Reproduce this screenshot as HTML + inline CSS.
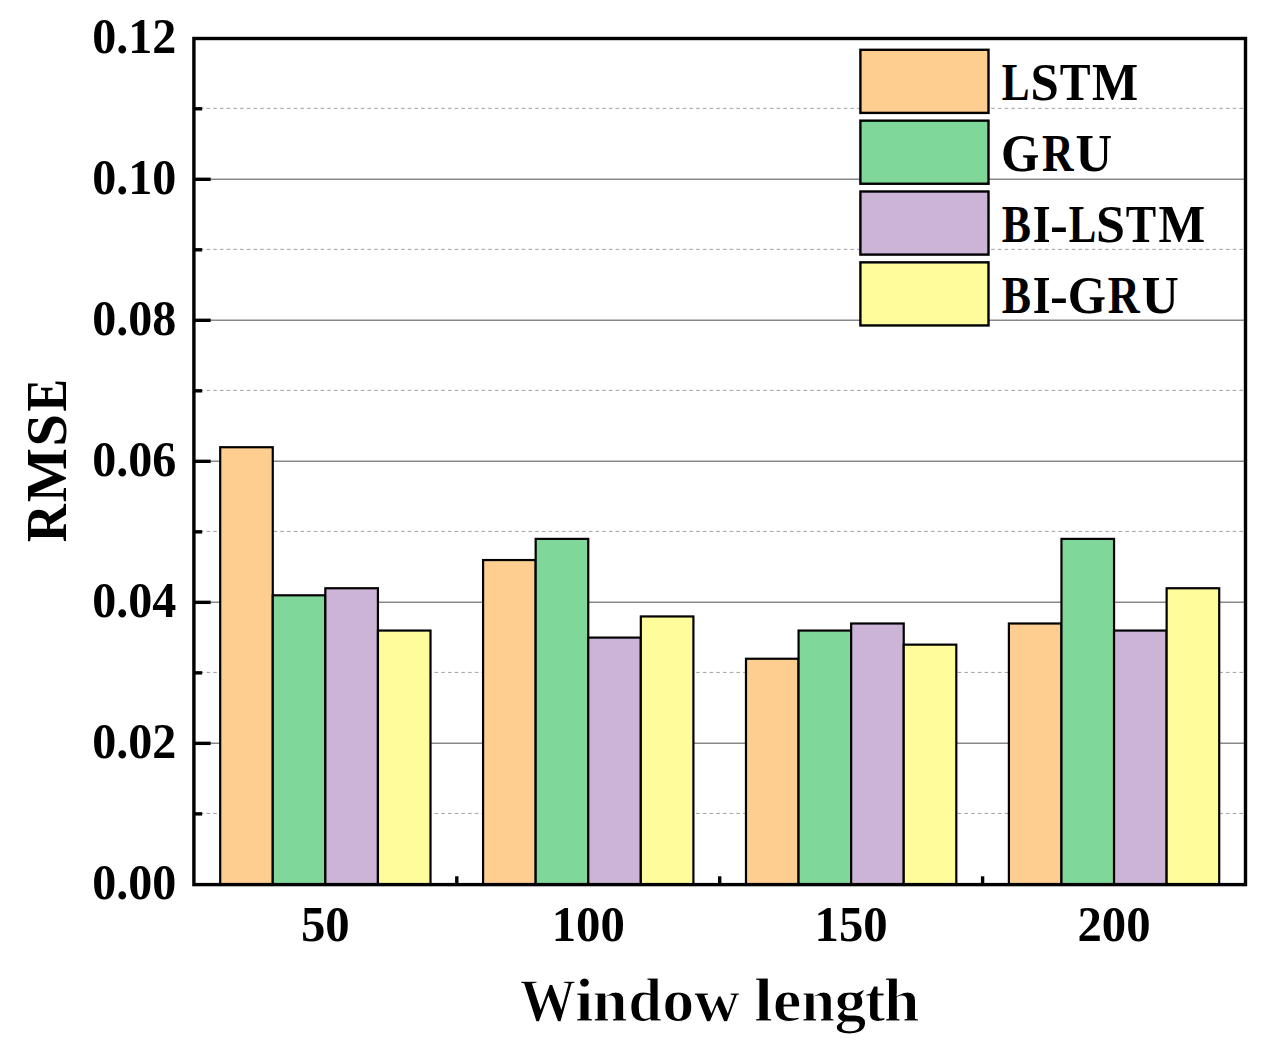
<!DOCTYPE html><html><head><meta charset="utf-8"><title>RMSE vs window length</title><style>html,body{margin:0;padding:0;background:#fff;overflow:hidden;}svg{display:block;}</style></head><body>
<svg width="1267" height="1060" viewBox="0 0 1267 1060">
<rect width="1267" height="1060" fill="#fff"/>
<line x1="193.1" y1="813.42" x2="1243.8" y2="813.42" stroke="#a0a0a0" stroke-width="1" stroke-dasharray="3.6 3.107"/>
<line x1="193.1" y1="672.40" x2="1243.8" y2="672.40" stroke="#a0a0a0" stroke-width="1" stroke-dasharray="3.6 3.107"/>
<line x1="193.1" y1="531.39" x2="1243.8" y2="531.39" stroke="#a0a0a0" stroke-width="1" stroke-dasharray="3.6 3.107"/>
<line x1="193.1" y1="390.37" x2="1243.8" y2="390.37" stroke="#a0a0a0" stroke-width="1" stroke-dasharray="3.6 3.107"/>
<line x1="193.1" y1="249.35" x2="1243.8" y2="249.35" stroke="#a0a0a0" stroke-width="1" stroke-dasharray="3.6 3.107"/>
<line x1="193.1" y1="108.34" x2="1243.8" y2="108.34" stroke="#a0a0a0" stroke-width="1" stroke-dasharray="3.6 3.107"/>
<line x1="193.9" y1="743.36" x2="1245.5" y2="743.36" stroke="#888" stroke-width="1.5"/>
<line x1="193.9" y1="602.35" x2="1245.5" y2="602.35" stroke="#888" stroke-width="1.5"/>
<line x1="193.9" y1="461.33" x2="1245.5" y2="461.33" stroke="#888" stroke-width="1.5"/>
<line x1="193.9" y1="320.31" x2="1245.5" y2="320.31" stroke="#888" stroke-width="1.5"/>
<line x1="193.9" y1="179.30" x2="1245.5" y2="179.30" stroke="#888" stroke-width="1.5"/>
<rect x="220.19" y="447.23" width="52.58" height="437.37" fill="#FECE90" stroke="#000" stroke-width="2.2"/>
<rect x="272.77" y="595.30" width="52.58" height="289.30" fill="#7FD799" stroke="#000" stroke-width="2.2"/>
<rect x="325.35" y="588.25" width="52.58" height="296.36" fill="#CCB4D7" stroke="#000" stroke-width="2.2"/>
<rect x="377.93" y="630.55" width="52.58" height="254.05" fill="#FFFC9B" stroke="#000" stroke-width="2.2"/>
<rect x="483.09" y="560.04" width="52.58" height="324.56" fill="#FECE90" stroke="#000" stroke-width="2.2"/>
<rect x="535.67" y="538.89" width="52.58" height="345.71" fill="#7FD799" stroke="#000" stroke-width="2.2"/>
<rect x="588.25" y="637.60" width="52.58" height="247.00" fill="#CCB4D7" stroke="#000" stroke-width="2.2"/>
<rect x="640.83" y="616.45" width="52.58" height="268.15" fill="#FFFC9B" stroke="#000" stroke-width="2.2"/>
<rect x="745.99" y="658.75" width="52.58" height="225.85" fill="#FECE90" stroke="#000" stroke-width="2.2"/>
<rect x="798.57" y="630.55" width="52.58" height="254.05" fill="#7FD799" stroke="#000" stroke-width="2.2"/>
<rect x="851.15" y="623.50" width="52.58" height="261.10" fill="#CCB4D7" stroke="#000" stroke-width="2.2"/>
<rect x="903.73" y="644.65" width="52.58" height="239.95" fill="#FFFC9B" stroke="#000" stroke-width="2.2"/>
<rect x="1008.89" y="623.50" width="52.58" height="261.10" fill="#FECE90" stroke="#000" stroke-width="2.2"/>
<rect x="1061.47" y="538.89" width="52.58" height="345.71" fill="#7FD799" stroke="#000" stroke-width="2.2"/>
<rect x="1114.05" y="630.55" width="52.58" height="254.05" fill="#CCB4D7" stroke="#000" stroke-width="2.2"/>
<rect x="1166.63" y="588.25" width="52.58" height="296.36" fill="#FFFC9B" stroke="#000" stroke-width="2.2"/>
<line x1="193.9" y1="813.87" x2="202.2" y2="813.87" stroke="#000" stroke-width="3.4"/>
<line x1="193.9" y1="743.36" x2="210.7" y2="743.36" stroke="#000" stroke-width="3.4"/>
<line x1="193.9" y1="672.86" x2="202.2" y2="672.86" stroke="#000" stroke-width="3.4"/>
<line x1="193.9" y1="602.35" x2="210.7" y2="602.35" stroke="#000" stroke-width="3.4"/>
<line x1="193.9" y1="531.84" x2="202.2" y2="531.84" stroke="#000" stroke-width="3.4"/>
<line x1="193.9" y1="461.33" x2="210.7" y2="461.33" stroke="#000" stroke-width="3.4"/>
<line x1="193.9" y1="390.82" x2="202.2" y2="390.82" stroke="#000" stroke-width="3.4"/>
<line x1="193.9" y1="320.31" x2="210.7" y2="320.31" stroke="#000" stroke-width="3.4"/>
<line x1="193.9" y1="249.80" x2="202.2" y2="249.80" stroke="#000" stroke-width="3.4"/>
<line x1="193.9" y1="179.30" x2="210.7" y2="179.30" stroke="#000" stroke-width="3.4"/>
<line x1="193.9" y1="108.79" x2="202.2" y2="108.79" stroke="#000" stroke-width="3.4"/>
<line x1="456.80" y1="884.6" x2="456.80" y2="876.30" stroke="#000" stroke-width="3.4"/>
<line x1="719.70" y1="884.6" x2="719.70" y2="876.30" stroke="#000" stroke-width="3.4"/>
<line x1="982.60" y1="884.6" x2="982.60" y2="876.30" stroke="#000" stroke-width="3.4"/>
<rect x="193.9" y="38.5" width="1051.60" height="846.10" fill="none" stroke="#000" stroke-width="3.4"/>
<text transform="translate(176.40,898.73) scale(0.962,1)" text-anchor="end" font-size="50" font-family="Liberation Serif" font-weight="bold">0.00</text>
<text transform="translate(176.40,757.71) scale(0.962,1)" text-anchor="end" font-size="50" font-family="Liberation Serif" font-weight="bold">0.02</text>
<text transform="translate(176.40,616.70) scale(0.962,1)" text-anchor="end" font-size="50" font-family="Liberation Serif" font-weight="bold">0.04</text>
<text transform="translate(176.40,475.68) scale(0.962,1)" text-anchor="end" font-size="50" font-family="Liberation Serif" font-weight="bold">0.06</text>
<text transform="translate(176.40,334.66) scale(0.962,1)" text-anchor="end" font-size="50" font-family="Liberation Serif" font-weight="bold">0.08</text>
<text transform="translate(176.40,193.65) scale(0.962,1)" text-anchor="end" font-size="50" font-family="Liberation Serif" font-weight="bold">0.10</text>
<text transform="translate(176.40,52.63) scale(0.962,1)" text-anchor="end" font-size="50" font-family="Liberation Serif" font-weight="bold">0.12</text>
<text transform="translate(325.35,940.55) scale(0.975,1)" text-anchor="middle" font-size="50" font-family="Liberation Serif" font-weight="bold">50</text>
<text transform="translate(588.25,940.55) scale(0.975,1)" text-anchor="middle" font-size="50" font-family="Liberation Serif" font-weight="bold">100</text>
<text transform="translate(851.15,940.55) scale(0.975,1)" text-anchor="middle" font-size="50" font-family="Liberation Serif" font-weight="bold">150</text>
<text transform="translate(1114.05,940.55) scale(0.975,1)" text-anchor="middle" font-size="50" font-family="Liberation Serif" font-weight="bold">200</text>
<text transform="translate(519.65,1020.90) scale(0.9033,1)" font-size="62.3" font-family="Liberation Serif" font-weight="bold" stroke="#fff" stroke-width="1.328">W</text>
<text transform="translate(574.88,1020.90) scale(1.0714,1)" font-size="62.3" font-family="Liberation Serif" font-weight="bold" stroke="#fff" stroke-width="1.120">i</text>
<text transform="translate(592.55,1020.90) scale(1.0146,1)" font-size="62.3" font-family="Liberation Serif" font-weight="bold" stroke="#fff" stroke-width="1.183">n</text>
<text transform="translate(628.19,1020.90) scale(0.9738,1)" font-size="62.3" font-family="Liberation Serif" font-weight="bold" stroke="#fff" stroke-width="1.232">d</text>
<text transform="translate(662.21,1020.90) scale(1.0301,1)" font-size="62.3" font-family="Liberation Serif" font-weight="bold" stroke="#fff" stroke-width="1.165">o</text>
<text transform="translate(694.06,1020.90) scale(1.0186,1)" font-size="62.3" font-family="Liberation Serif" font-weight="bold" stroke="#fff" stroke-width="1.178">w</text>
<text transform="translate(754.11,1020.90) scale(1.0980,1)" font-size="62.3" font-family="Liberation Serif" font-weight="bold" stroke="#fff" stroke-width="1.093">l</text>
<text transform="translate(772.74,1020.90) scale(1.0372,1)" font-size="62.3" font-family="Liberation Serif" font-weight="bold" stroke="#fff" stroke-width="1.157">e</text>
<text transform="translate(801.22,1020.90) scale(0.9771,1)" font-size="62.3" font-family="Liberation Serif" font-weight="bold" stroke="#fff" stroke-width="1.228">n</text>
<text transform="translate(834.47,1020.90) scale(1.0208,1)" font-size="62.3" font-family="Liberation Serif" font-weight="bold" stroke="#fff" stroke-width="1.176">g</text>
<text transform="translate(864.85,1020.90) scale(0.9913,1)" font-size="62.3" font-family="Liberation Serif" font-weight="bold" stroke="#fff" stroke-width="1.210">t</text>
<text transform="translate(883.75,1020.90) scale(1.0325,1)" font-size="62.3" font-family="Liberation Serif" font-weight="bold" stroke="#fff" stroke-width="1.162">h</text>
<text transform="translate(66.00,542.25) rotate(-90) scale(0.9265,1)" font-size="57" font-family="Liberation Serif" font-weight="bold">R</text>
<text transform="translate(66.00,502.13) rotate(-90) scale(1.0081,1)" font-size="57" font-family="Liberation Serif" font-weight="bold">M</text>
<text transform="translate(66.00,446.46) rotate(-90) scale(1.0249,1)" font-size="57" font-family="Liberation Serif" font-weight="bold">S</text>
<text transform="translate(66.00,411.58) rotate(-90) scale(0.8558,1)" font-size="57" font-family="Liberation Serif" font-weight="bold">E</text>
<rect x="860.40" y="49.80" width="128.10" height="63.10" fill="#FECE90" stroke="#000" stroke-width="2.4"/>
<text transform="translate(1001.84,100.10) scale(0.8003,1)" font-size="52" font-family="Liberation Serif" font-weight="bold">L</text>
<text transform="translate(1030.45,100.10) scale(0.9773,1)" font-size="52" font-family="Liberation Serif" font-weight="bold">S</text>
<text transform="translate(1059.83,100.10) scale(0.8886,1)" font-size="52" font-family="Liberation Serif" font-weight="bold">T</text>
<text transform="translate(1092.01,100.10) scale(0.9402,1)" font-size="52" font-family="Liberation Serif" font-weight="bold">M</text>
<rect x="860.40" y="120.65" width="128.10" height="63.10" fill="#7FD799" stroke="#000" stroke-width="2.4"/>
<text transform="translate(1001.04,170.95) scale(0.9483,1)" font-size="52" font-family="Liberation Serif" font-weight="bold">G</text>
<text transform="translate(1042.00,170.95) scale(0.8405,1)" font-size="52" font-family="Liberation Serif" font-weight="bold">R</text>
<text transform="translate(1075.59,170.95) scale(0.9753,1)" font-size="52" font-family="Liberation Serif" font-weight="bold">U</text>
<rect x="860.40" y="191.50" width="128.10" height="63.10" fill="#CCB4D7" stroke="#000" stroke-width="2.4"/>
<text transform="translate(1001.82,241.80) scale(0.8433,1)" font-size="52" font-family="Liberation Serif" font-weight="bold">B</text>
<text transform="translate(1032.71,241.80) scale(0.8785,1)" font-size="52" font-family="Liberation Serif" font-weight="bold">I</text>
<text transform="translate(1050.09,241.80) scale(1.0290,1)" font-size="52" font-family="Liberation Serif" font-weight="bold">-</text>
<text transform="translate(1068.74,241.80) scale(0.7940,1)" font-size="52" font-family="Liberation Serif" font-weight="bold">L</text>
<text transform="translate(1096.08,241.80) scale(1.0024,1)" font-size="52" font-family="Liberation Serif" font-weight="bold">S</text>
<text transform="translate(1125.84,241.80) scale(0.8766,1)" font-size="52" font-family="Liberation Serif" font-weight="bold">T</text>
<text transform="translate(1158.40,241.80) scale(0.9509,1)" font-size="52" font-family="Liberation Serif" font-weight="bold">M</text>
<rect x="860.40" y="262.35" width="128.10" height="63.10" fill="#FFFC9B" stroke="#000" stroke-width="2.4"/>
<text transform="translate(1001.82,312.65) scale(0.8433,1)" font-size="52" font-family="Liberation Serif" font-weight="bold">B</text>
<text transform="translate(1032.71,312.65) scale(0.8785,1)" font-size="52" font-family="Liberation Serif" font-weight="bold">I</text>
<text transform="translate(1050.09,312.65) scale(1.0290,1)" font-size="52" font-family="Liberation Serif" font-weight="bold">-</text>
<text transform="translate(1067.75,312.65) scale(0.9456,1)" font-size="52" font-family="Liberation Serif" font-weight="bold">G</text>
<text transform="translate(1107.79,312.65) scale(0.8513,1)" font-size="52" font-family="Liberation Serif" font-weight="bold">R</text>
<text transform="translate(1141.87,312.65) scale(0.9868,1)" font-size="52" font-family="Liberation Serif" font-weight="bold">U</text>
</svg></body></html>
